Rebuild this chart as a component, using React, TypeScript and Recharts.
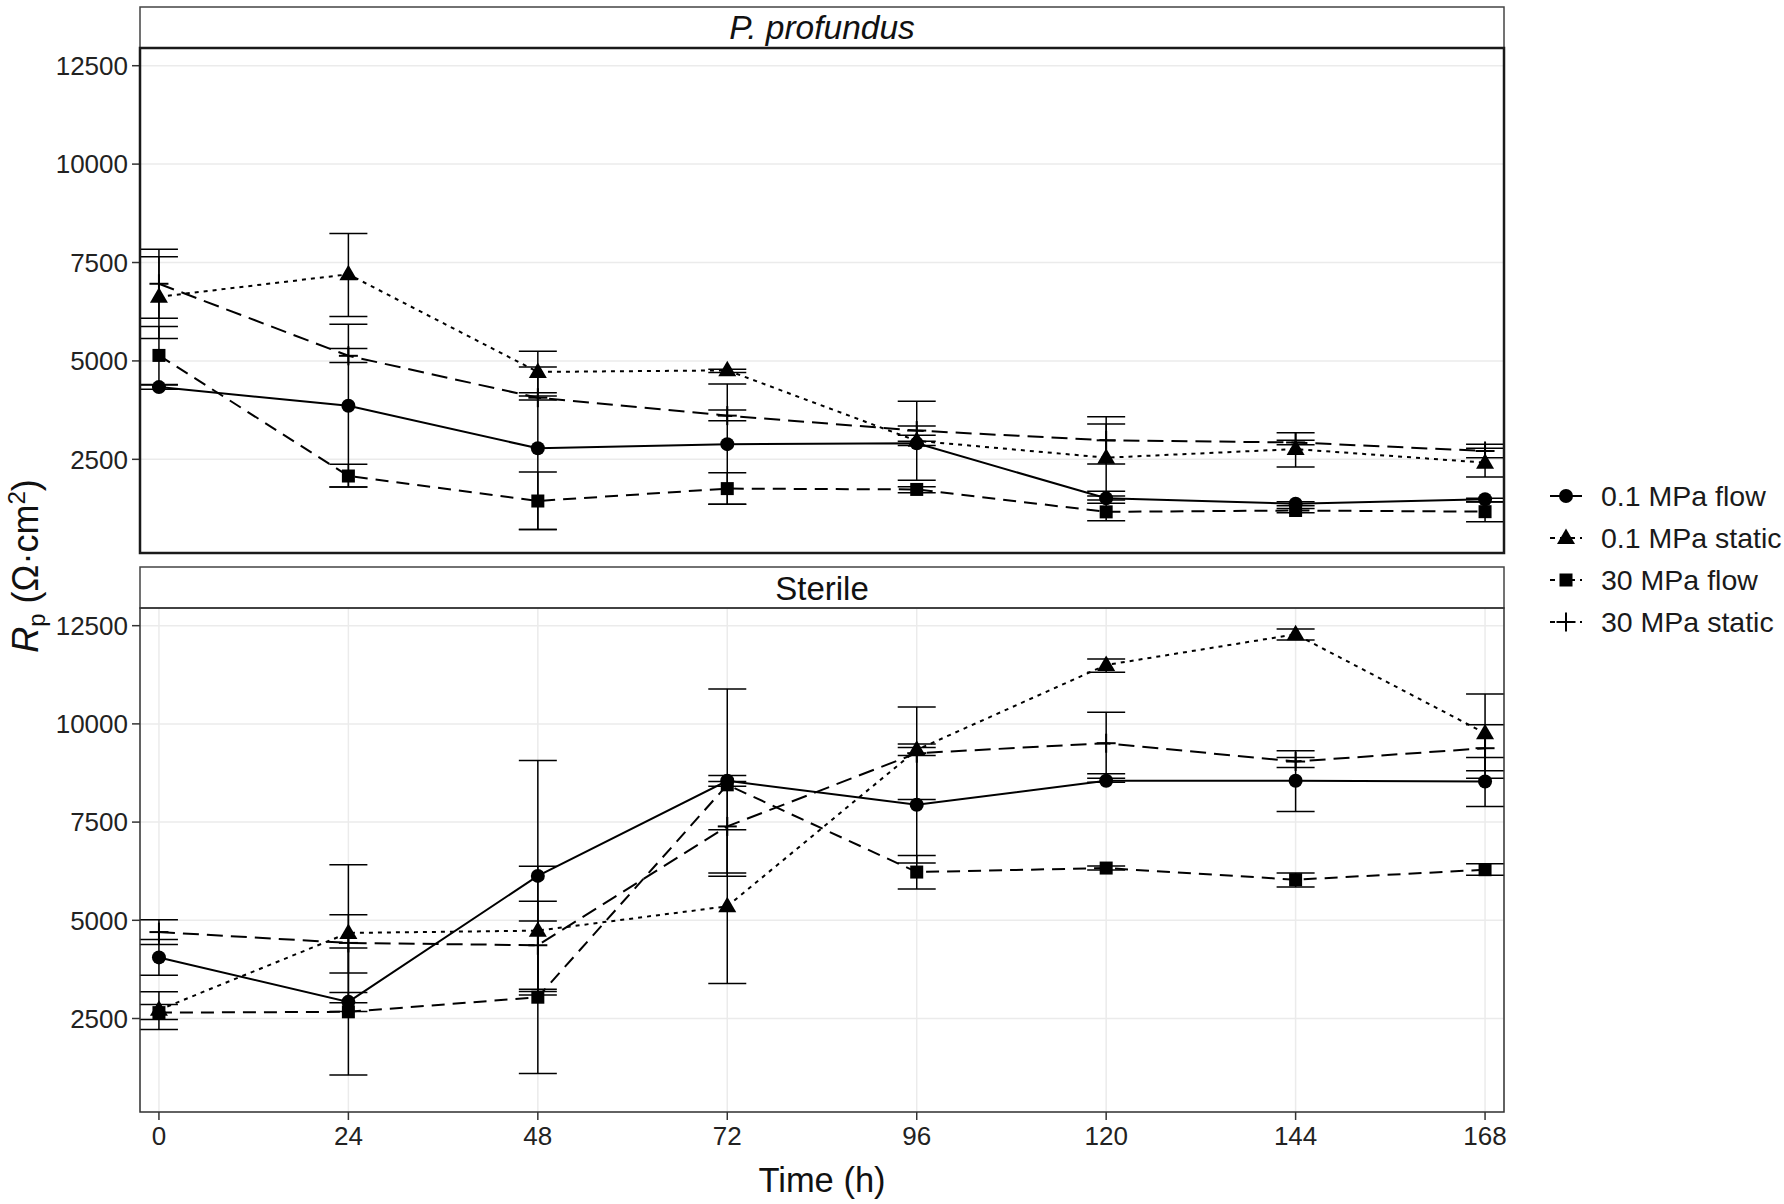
import React from 'react';
import { LineChart, Line, XAxis, YAxis, CartesianGrid, ErrorBar, Legend } from 'recharts';

// ---------- data ----------
const hours = [0, 24, 48, 72, 96, 120, 144, 168];
const yTicks = [2500, 5000, 7500, 10000, 12500];
const seriesNames = ['0.1 MPa flow', '0.1 MPa static', '30 MPa flow', '30 MPa static'];
const panelTitles = ['P. profundus', 'Sterile'];

// P. profundus panel
const profFlow01 = [4335, 3860, 2780, 2885, 2906, 1509, 1373, 1484];
const profFlow01Low = [4280, 1797, 720, 1356, 2850, 1467, 1320, 1416];
const profFlow01High = [4390, 5932, 4848, 4415, 2960, 1568, 1420, 1509];

const profStatic01 = [6630, 7200, 4720, 4760, 2970, 2542, 2760, 2415];
const profStatic01Low = [5568, 6127, 4190, 4703, 1966, 1686, 2305, 2051];
const profStatic01High = [7645, 8237, 5246, 4788, 3974, 3398, 3178, 2779];

const profFlow30 = [5140, 2076, 1441, 1756, 1735, 1165, 1200, 1170];
const profFlow30Low = [4400, 1797, 720, 1356, 1653, 941, 1145, 916];
const profFlow30High = [5873, 2373, 2178, 2161, 1805, 1382, 1250, 1424];

const profStatic30 = [6960, 5130, 4065, 3610, 3230, 2983, 2928, 2712];
const profStatic30Low = [6085, 4958, 4008, 3483, 3110, 2382, 2873, 2540];
const profStatic30High = [7840, 5314, 4110, 3754, 3347, 3584, 2983, 2880];

// Sterile panel
const sterFlow01 = [4055, 2924, 6130, 8551, 7940, 8551, 8551, 8534];
const sterFlow01Low = [3602, 2680, 3190, 8414, 6457, 8517, 7771, 7898];
const sterFlow01High = [4509, 3160, 9068, 8688, 9398, 8619, 9313, 9144];

const sterStatic01 = [2720, 4678, 4737, 5356, 9339, 11500, 12280, 9763];
const sterStatic01Low = [2220, 2900, 3100, 3390, 9195, 11314, 12136, 8805];
const sterStatic01High = [3178, 6415, 6373, 7305, 9491, 11653, 12415, 10763];

const sterFlow30 = [2650, 2670, 3042, 8449, 6228, 6330, 6034, 6288];
const sterFlow30Low = [2475, 1059, 1102, 6119, 5796, 6280, 5847, 6144];
const sterFlow30High = [2856, 4297, 4982, 10890, 6652, 6380, 6203, 6440];

const sterStatic30 = [4700, 4424, 4365, 7390, 9254, 9508, 9042, 9381];
const sterStatic30Low = [4381, 3661, 3247, 6204, 8076, 8729, 8890, 8619];
const sterStatic30High = [5017, 5144, 5483, 8534, 10432, 10297, 9144, 9975];

// ---------- styles ----------
const FONT = "'Liberation Sans', Arial, Helvetica, sans-serif";
const seriesStyle = [
  { key: 'flow01', shape: 'circle', dash: undefined as string | undefined },
  { key: 'static01', shape: 'triangle', dash: '4 5' },
  { key: 'flow30', shape: 'square', dash: '13 8' },
  { key: 'static30', shape: 'cross', dash: '16 8' },
];

function buildRows(vals: number[][], lows: number[][], highs: number[][]) {
  return hours.map((t, i) => {
    const row: any = { t };
    seriesStyle.forEach((s, k) => {
      row[s.key] = vals[k][i];
      row[s.key + 'Err'] = [vals[k][i] - lows[k][i], highs[k][i] - vals[k][i]];
    });
    return row;
  });
}

const profData = buildRows(
  [profFlow01, profStatic01, profFlow30, profStatic30],
  [profFlow01Low, profStatic01Low, profFlow30Low, profStatic30Low],
  [profFlow01High, profStatic01High, profFlow30High, profStatic30High]
);
const sterData = buildRows(
  [sterFlow01, sterStatic01, sterFlow30, sterStatic30],
  [sterFlow01Low, sterStatic01Low, sterFlow30Low, sterStatic30Low],
  [sterFlow01High, sterStatic01High, sterFlow30High, sterStatic30High]
);

function Marker({ shape, cx, cy }: { shape: string; cx: number; cy: number }) {
  if (shape === 'circle') return <circle cx={cx} cy={cy} r={7} fill="#000" />;
  if (shape === 'triangle')
    return (
      <polygon
        points={`${cx},${cy - 9.5} ${cx - 9},${cy + 6} ${cx + 9},${cy + 6}`}
        fill="#000"
      />
    );
  if (shape === 'square') return <rect x={cx - 6.5} y={cy - 6.5} width={13} height={13} fill="#000" />;
  return (
    <g stroke="#000" strokeWidth={2}>
      <line x1={cx - 9.5} y1={cy} x2={cx + 9.5} y2={cy} />
      <line x1={cx} y1={cy - 9.5} x2={cx} y2={cy + 9.5} />
    </g>
  );
}

function makeDot(shape: string) {
  return (props: any) => {
    const { cx, cy, index } = props;
    const k = `${shape}-${index}`;
    if (cx == null || cy == null) return <g key={k} />;
    return (
      <g key={k}>
        <Marker shape={shape} cx={cx} cy={cy} />
      </g>
    );
  };
}

function renderLines() {
  return seriesStyle.map((s, i) => (
    <Line
      key={s.key}
      type="linear"
      dataKey={s.key}
      name={seriesNames[i]}
      stroke="#000"
      strokeWidth={2}
      strokeDasharray={s.dash}
      dot={makeDot(s.shape)}
      activeDot={false}
      isAnimationActive={false}
    >
      <ErrorBar dataKey={s.key + 'Err'} direction="y" width={19} stroke="#000" strokeWidth={1.5} />
    </Line>
  ));
}

const LegendContent = () => (
  <div style={{ fontFamily: FONT }}>
    {seriesStyle.map((s, i) => (
      <div key={s.key} style={{ display: 'flex', alignItems: 'center', height: 42 }}>
        <svg width={32} height={42} style={{ overflow: 'visible' }}>
          <line x1={0} y1={21} x2={32} y2={21} stroke="#000" strokeWidth={2} strokeDasharray={s.dash ? '5 5' : undefined} />
          <Marker shape={s.shape} cx={16} cy={21} />
        </svg>
        <span style={{ marginLeft: 19, fontSize: 28.5, color: '#1a1a1a', whiteSpace: 'nowrap' }}>{seriesNames[i]}</span>
      </div>
    ))}
  </div>
);

const yAxisProps = {
  type: 'number' as const,
  domain: [120, 12950],
  ticks: yTicks,
  allowDataOverflow: true,
  width: 140,
  tickSize: 8,
  tickMargin: 4,
  tick: { fontSize: 26, fill: '#222', fontFamily: FONT },
  tickLine: { stroke: '#333', strokeWidth: 1.5 },
  axisLine: false,
};

export default function App() {
  return (
    <div style={{ position: 'absolute', left: 0, top: 0, width: 1784, height: 1204, background: '#fff', fontFamily: FONT, overflow: 'hidden' }}>
      <div style={{ position: 'absolute', left: 0, top: 0 }}>
        <LineChart width={1784} height={1204} data={profData} margin={{ top: 48, right: 280, bottom: 651, left: 0 }}>
          <CartesianGrid stroke="#EBEBEB" strokeWidth={1.5} />
          <XAxis dataKey="t" type="number" domain={[-2.4, 170.4]} ticks={hours} allowDataOverflow tick={false} tickLine={false} axisLine={false} height={0} />
          <YAxis {...yAxisProps} />
          {renderLines()}
        </LineChart>
      </div>
      <div style={{ position: 'absolute', left: 0, top: 0 }}>
        <LineChart width={1784} height={1204} data={sterData} margin={{ top: 608, right: 280, bottom: 0, left: 0 }}>
          <CartesianGrid stroke="#EBEBEB" strokeWidth={1.5} />
          <XAxis
            dataKey="t"
            type="number"
            domain={[-2.4, 170.4]}
            ticks={hours}
            allowDataOverflow
            height={92}
            tickSize={8}
            tickMargin={7}
            tick={{ fontSize: 26, fill: '#222', fontFamily: FONT }}
            tickLine={{ stroke: '#333', strokeWidth: 1.5 }}
            axisLine={false}
            label={{ value: 'Time (h)', position: 'insideBottom', offset: 12, fontSize: 34.5, fill: '#111', fontFamily: FONT }}
          />
          <YAxis {...yAxisProps} />
          {renderLines()}
          <Legend
            layout="vertical"
            align="center"
            verticalAlign="middle"
            content={() => <LegendContent />}
            wrapperStyle={{ left: 1550, top: 475, width: 234 }}
          />
        </LineChart>
      </div>
      <svg width={1784} height={1204} style={{ position: 'absolute', left: 0, top: 0, pointerEvents: 'none' }}>
        <rect x={140} y={7} width={1364} height={41} fill="#fff" stroke="#444" strokeWidth={1.5} />
        <text x={822} y={39} textAnchor="middle" fontSize={33.5} fontStyle="italic" fill="#111" fontFamily={FONT}>
          {panelTitles[0]}
        </text>
        <rect x={140} y={48} width={1364} height={505} fill="none" stroke="#1a1a1a" strokeWidth={2.5} />
        <rect x={140} y={567} width={1364} height={41} fill="#fff" stroke="#444" strokeWidth={1.5} />
        <text x={822} y={600} textAnchor="middle" fontSize={33} fill="#111" fontFamily={FONT}>
          {panelTitles[1]}
        </text>
        <rect x={140} y={608} width={1364} height={504} fill="none" stroke="#333" strokeWidth={1.5} />
        <text transform="translate(38,566) rotate(-90)" textAnchor="middle" fontSize={36} fill="#111" fontFamily={FONT}>
          <tspan fontStyle="italic">R</tspan>
          <tspan fontSize={24} dy={7}>p</tspan>
          <tspan dy={-7}> (Ω·cm</tspan>
          <tspan fontSize={24} dy={-13}>2</tspan>
          <tspan dy={13}>)</tspan>
        </text>
      </svg>
    </div>
  );
}
